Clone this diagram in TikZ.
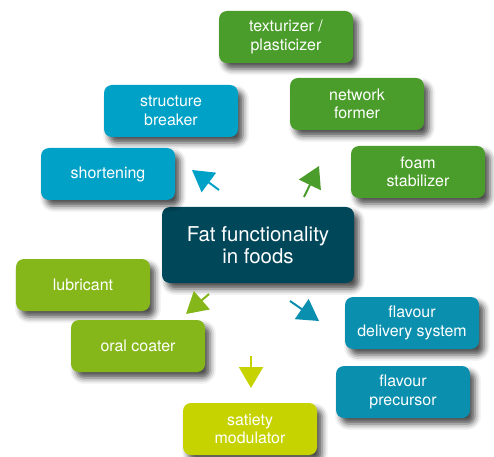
\documentclass[tikz,border=0pt]{standalone}
\usepackage{fontspec}
\setmainfont{TeX Gyre Heros}
\usetikzlibrary{arrows.meta,shadows.blur}

\definecolor{skyblue}{RGB}{0,161,198}
\definecolor{tealblue}{RGB}{10,143,174}
\definecolor{leafgreen}{RGB}{74,157,42}
\definecolor{limegreen}{RGB}{134,183,26}
\definecolor{pearyellow}{RGB}{198,211,0}
\definecolor{deepteal}{RGB}{0,71,90}

\begin{document}
\begin{tikzpicture}[x=1bp, y=-1bp,
    box/.style={rounded corners=8bp, minimum width=134bp, minimum height=52bp,
        inner sep=2bp, align=center, text=white,
        font=\fontsize{16}{18.5}\selectfont,
        blur shadow={shadow xshift=5bp, shadow yshift=-6bp,
            shadow blur radius=6bp, shadow opacity=70}},
    pointer/.style={line width=2bp, -{Triangle[width=24bp,length=21bp]}}]
    \useasboundingbox (0,0) rectangle (494,457);
%
    \node[box, fill=deepteal, minimum width=192bp, minimum height=76bp,
        font=\fontsize{20.5}{22}\selectfont] (fat) at (258,245)
        {Fat functionality\\in foods};
%
    \node[box, fill=leafgreen] (texturizer) at (286,37) {texturizer /\\plasticizer};
    \node[box, fill=leafgreen] (network) at (357,104) {network\\former};
    \node[box, fill=leafgreen] (foam) at (418,172) {foam\\stabilizer};
%
    \node[box, fill=skyblue] (breaker) at (171,111) {structure\\breaker};
    \node[box, fill=skyblue] (shortening) at (108,174) {shortening};
%
    \node[box, fill=limegreen] (lubricant) at (83,285) {lubricant};
    \node[box, fill=limegreen] (coater) at (138,346) {oral coater};
%
    \node[box, fill=tealblue] (delivery) at (412,323) {flavour\\delivery system};
    \node[box, fill=tealblue] (precursor) at (403,392) {flavour\\precursor};
%
    \node[box, fill=pearyellow] (satiety) at (250,429) {satiety\\modulator};
%
    \coordinate (ul0) at (219,190);
    \coordinate (ul1) at (192,170);
    \coordinate (ur0) at (304,197);
    \coordinate (ur1) at (319,166);
    \coordinate (ll0) at (209,294);
    \coordinate (ll1) at (186,314);
    \coordinate (lr0) at (290,301);
    \coordinate (lr1) at (319,321);
    \coordinate (dn0) at (251,356);
    \coordinate (dn1) at (251,388);
%
    \draw[pointer, skyblue] (ul0) -- (ul1);
    \draw[pointer, leafgreen] (ur0) -- (ur1);
    \draw[pointer, limegreen] (ll0) -- (ll1);
    \draw[pointer, tealblue] (lr0) -- (lr1);
    \draw[pointer, pearyellow] (dn0) -- (dn1);
\end{tikzpicture}
\end{document}
